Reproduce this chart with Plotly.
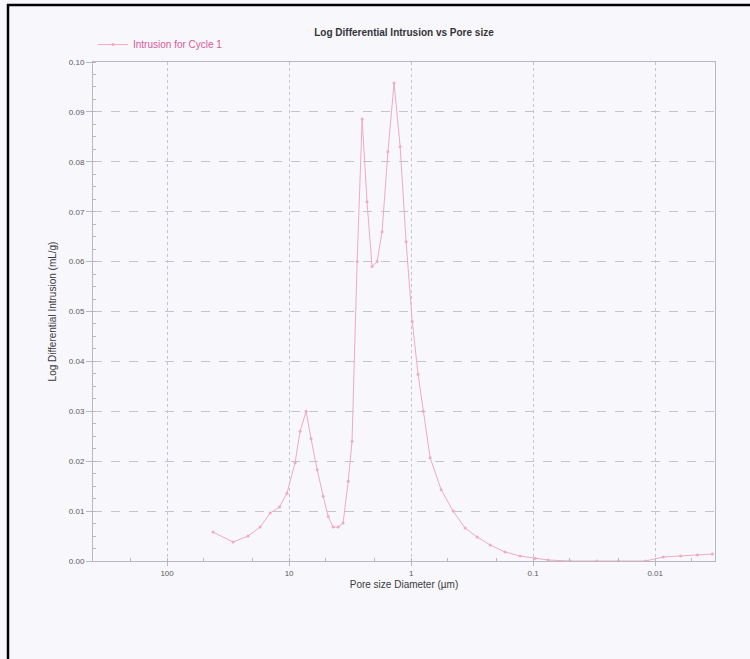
import plotly.graph_objects as go

# Pore size diameter (µm) and log differential intrusion (mL/g)
pore_diameter = [42.0, 28.8, 21.7, 17.3, 14.3, 12.0, 10.4, 8.93, 8.13, 7.26, 6.61, 5.89,
                 5.26, 4.78, 4.36, 3.96, 3.61, 3.28, 3.05, 2.77, 2.52, 2.30, 2.09, 1.90,
                 1.73, 1.55, 1.38, 1.23, 1.10, 0.98, 0.877, 0.798, 0.699, 0.568, 0.453,
                 0.361, 0.288, 0.225, 0.170, 0.128, 0.0964, 0.0754, 0.05, 0.03, 0.02,
                 0.012, 0.0086, 0.0062, 0.0045, 0.0034]
log_diff_intrusion = [0.0058, 0.0038, 0.0050, 0.0068, 0.0096, 0.0108, 0.0136, 0.0197, 0.0260,
                      0.0300, 0.0245, 0.0183, 0.0130, 0.0089, 0.0068, 0.0068, 0.0076, 0.0160,
                      0.0240, 0.0600, 0.0886, 0.0720, 0.0590, 0.0600, 0.0660, 0.0820, 0.0958,
                      0.0830, 0.0640, 0.0480, 0.0374, 0.0300, 0.0207, 0.0143, 0.0100, 0.0066,
                      0.0048, 0.0032, 0.0018, 0.0010, 0.0005, 0.0002, 0.0, 0.0, 0.0, 0.0,
                      0.0008, 0.0010, 0.0012, 0.0014]

x_tick_vals = [100, 10, 1, 0.1, 0.01]
x_tick_text = ["100", "10", "1", "0.1", "0.01"]
y_tick_vals = [0.00, 0.01, 0.02, 0.03, 0.04, 0.05, 0.06, 0.07, 0.08, 0.09, 0.10]

series_name = "Intrusion for Cycle 1"
title_text = "Log Differential Intrusion vs Pore size"
x_title = "Pore size Diameter (µm)"
y_title = "Log Differential Intrusion (mL/g)"

bg = "#f8f7fc"
line_col = "#eeacbe"
legend_col = "#d8589a"
grid_col = "#c4c4cc"
axis_col = "#b8b8c0"
text_col = "#5a5a60"

fig = go.Figure()
fig.add_trace(go.Scatter(
    x=pore_diameter, y=log_diff_intrusion, mode="lines+markers", name=series_name,
    line=dict(color=line_col, width=1),
    marker=dict(color=line_col, size=3),
))

fig.update_layout(
    width=750, height=659,
    margin=dict(l=93, r=35, t=62, b=98),
    paper_bgcolor=bg, plot_bgcolor=bg,
    font=dict(family="Liberation Sans, Arial, sans-serif", color=text_col, size=9),
    title=dict(text="<b>" + title_text + "</b>", x=0.5, xanchor="center", xref="paper",
               y=1 - 32 / 659, yanchor="middle",
               font=dict(size=10, color="#333338")),
    showlegend=True,
    legend=dict(x=0.0, y=1.035, xanchor="left", yanchor="middle", bgcolor="rgba(0,0,0,0)",
                font=dict(color=legend_col, size=10), itemwidth=30),
)

fig.update_xaxes(
    type="log", range=[2.607, -2.49], autorange=False,
    tickvals=x_tick_vals, ticktext=x_tick_text,
    showgrid=True, gridcolor=grid_col, griddash="dot", gridwidth=1,
    showline=True, linecolor=axis_col, linewidth=1, mirror=True,
    ticks="outside", ticklen=4, tickcolor=axis_col,
    minor=dict(ticks="inside", ticklen=3, tickcolor=axis_col, showgrid=False),
    tickfont=dict(size=8, color=text_col),
    title=dict(text=x_title, font=dict(size=10, color="#3a3a40"), standoff=4),
    zeroline=False,
)
fig.update_yaxes(
    range=[0, 0.1], autorange=False,
    tickvals=y_tick_vals, tickformat=".2f",
    showgrid=True, gridcolor=grid_col, griddash="dash", gridwidth=1,
    showline=True, linecolor=axis_col, linewidth=1, mirror=True,
    ticks="outside", ticklen=6, tickcolor=axis_col,
    minor=dict(ticks="inside", ticklen=3, tickcolor=axis_col, dtick=0.0025, showgrid=False),
    tickfont=dict(size=8, color=text_col),
    title=dict(text=y_title, font=dict(size=10, color="#3a3a40"), standoff=10),
    zeroline=False,
)

# Black scan frame (top and left edges)
pw, ph = 750 - 93 - 35, 659 - 62 - 98
def px(x):
    return (x - 93) / pw
def py(y):
    return (561 - y) / ph
fig.add_shape(type="line", xref="paper", yref="paper",
              x0=px(7), x1=px(752), y0=py(5), y1=py(5),
              line=dict(color="black", width=2.5))
fig.add_shape(type="line", xref="paper", yref="paper",
              x0=px(8), x1=px(8), y0=py(4), y1=py(662),
              line=dict(color="black", width=2.5))

fig.write_html("out.html", config={"displayModeBar": False},
               post_script="document.body.style.margin='0';document.body.style.padding='0';")
